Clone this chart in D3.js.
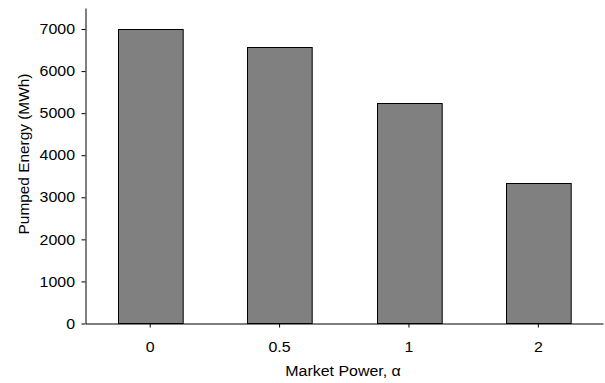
<!DOCTYPE html>
<html><head><meta charset="utf-8">
<script src="https://cdn.jsdelivr.net/npm/d3@7"></script>
<style>body{margin:0;background:#fff}svg{display:block}text{font-family:"Liberation Sans",Arial,sans-serif;fill:#000}</style>
</head><body><svg id="c" width="605" height="383"></svg>
<script>
const categories = ["0", "0.5", "1", "2"];
const values = [7000, 6580, 5235, 3335];
const yTicks = [0, 1000, 2000, 3000, 4000, 5000, 6000, 7000];
const xTitle = "Market Power, α";
const yTitle = "Pumped Energy (MWh)";

(function(){
const svg = d3.select("#c");
const mL = 85.5, mR = 603, mT = 8, mB = 323.5;
const fs = "14.5px", sx = 1.1;
const x = d3.scaleBand().domain(categories).range([mL, mR]).paddingInner(0.5).paddingOuter(0.25);
const y = d3.scaleLinear().domain([0, 7500]).range([mB, mT]);

svg.selectAll("rect.bar").data(values).enter().append("rect")
  .attr("class","bar")
  .attr("x",(d,i)=>Math.round(x(categories[i]))+0.5)
  .attr("y",d=>Math.round(y(d))+0.5)
  .attr("width",x.bandwidth())
  .attr("height",d=>mB-Math.round(y(d))-0.5)
  .attr("fill","#808080").attr("stroke","#000").attr("stroke-width",1);

const ya = svg.append("g").attr("transform",`translate(${mL},0)`)
  .call(d3.axisLeft(y).tickValues(yTicks).tickFormat(d3.format("d")).tickSize(4).tickSizeOuter(0).tickPadding(6.5));
ya.select(".domain").attr("stroke","#000");
ya.selectAll("text").style("font-size",fs)
  .attr("transform",function(){const xx=+this.getAttribute("x");return `translate(${xx},0) scale(${sx},1) translate(${-xx},0)`;});

const xa = svg.append("g").attr("transform",`translate(0,${mB})`)
  .call(d3.axisBottom(x).tickSize(4).tickSizeOuter(0).tickPadding(14));
xa.select(".domain").attr("stroke","#000");
xa.selectAll("text").style("font-size",fs).attr("transform",`scale(${sx},1)`);

svg.append("text").attr("transform",`translate(343,376) scale(${sx},1)`).attr("text-anchor","middle").style("font-size",fs).text(xTitle);
svg.append("text").attr("transform",`translate(28.5,154) rotate(-90)`).attr("text-anchor","middle").style("font-size","15.4px").text(yTitle);
})();
</script></body></html>
